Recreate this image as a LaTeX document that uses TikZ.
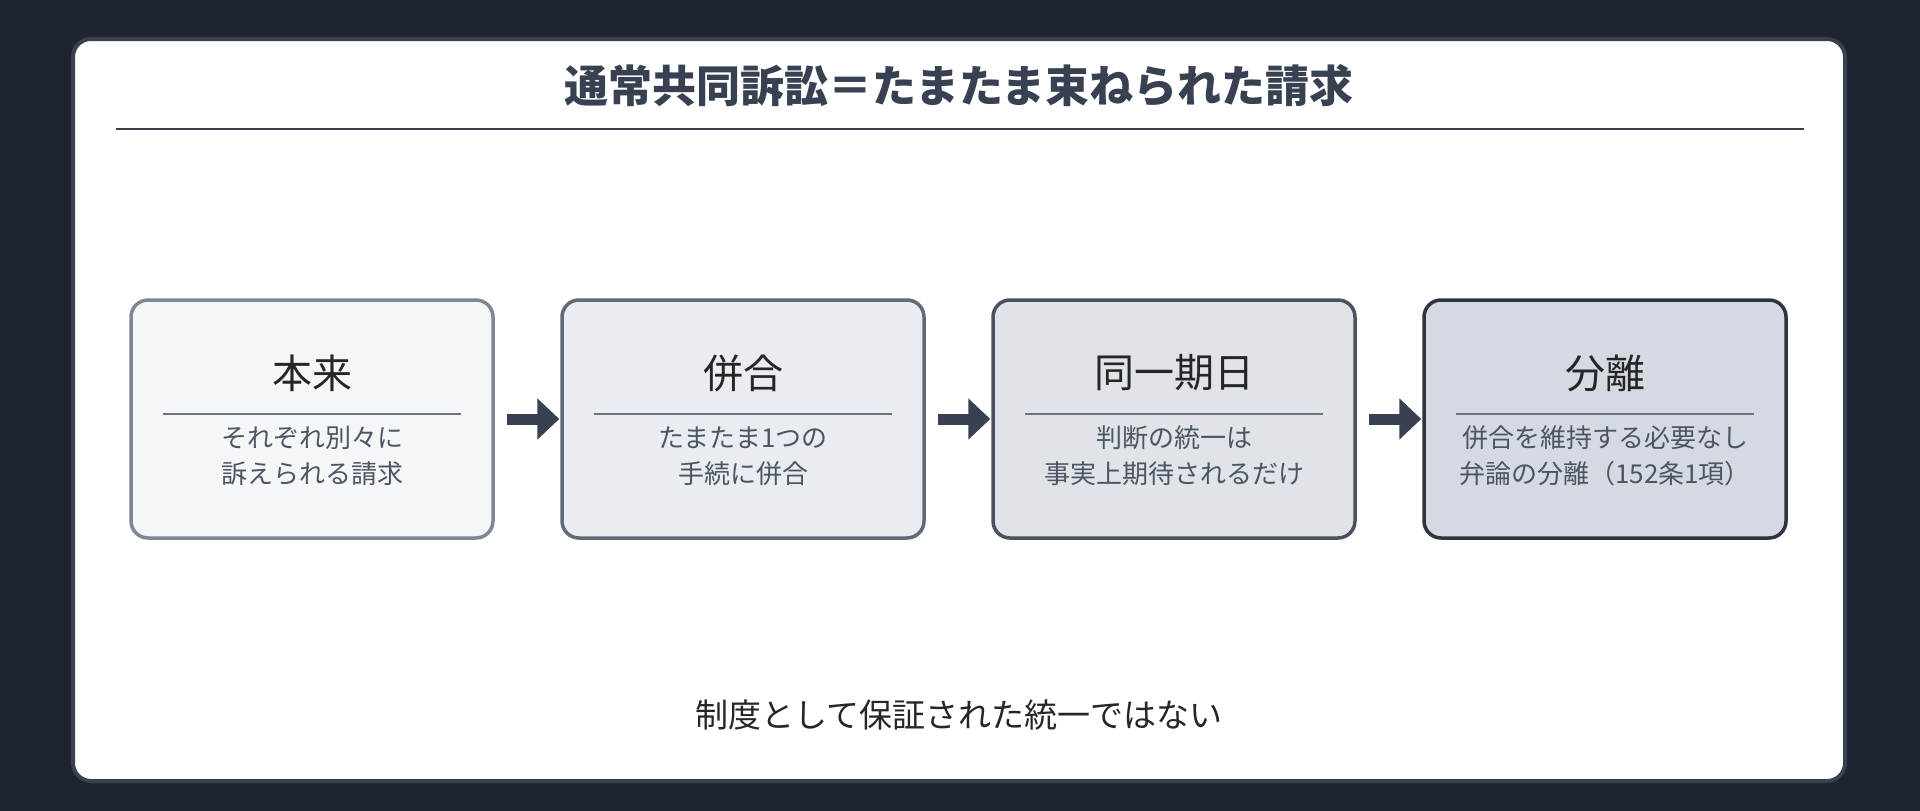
\documentclass[tikz,border=0pt]{standalone}
\usepackage{fontspec}
\setmainfont{Noto Sans CJK JP}
\usetikzlibrary{positioning, arrows.meta}
\definecolor{bgdark}{HTML}{1E2530}
\definecolor{slate}{HTML}{374151}
\definecolor{subgray}{HTML}{4B5563}
\definecolor{ruleg}{HTML}{6B7280}
\definecolor{fillA}{HTML}{F5F6F8}
\definecolor{fillB}{HTML}{E9ECF0}
\definecolor{fillC}{HTML}{E0E3E8}
\definecolor{fillD}{HTML}{D5D9E1}
\definecolor{drawA}{HTML}{7F8796}
\definecolor{drawB}{HTML}{616A78}
\definecolor{drawC}{HTML}{4A5260}
\definecolor{drawD}{HTML}{2D3542}

\begin{document}
\begin{tikzpicture}[
    x=1pt, y=-1pt,
    stage/.style={rectangle, rounded corners=17pt, minimum width=362pt, minimum height=238pt, line width=3.5pt},
    head/.style={font=\fontsize{40}{44}\selectfont, text=black!85},
    sub/.style={font=\fontsize{26}{36}\selectfont, text=subgray, align=center},
    flow/.style={-{Triangle[length=22pt, width=40pt]}, line width=11pt, draw=slate}
]
\useasboundingbox (0,0) rectangle (1920,811);
\fill[bgdark] (0,0) rectangle (1920,811);

% Panel
\draw[line width=4pt, draw=slate, fill=white, rounded corners=18pt] (73,39) rectangle (1845,781);

% Title
\node[font=\fontsize{44}{50}\selectfont\bfseries, text=slate] (title) at (959,86) {通常共同訴訟＝たまたま束ねられた請求};
\draw[line width=2pt, slate] (116,129) -- (1804,129);

% Stages
\foreach \i/\x/\f/\d/\h/\s in {
    1/312/fillA/drawA/本来/{それぞれ別々に\\訴えられる請求},
    2/743/fillB/drawB/併合/{たまたま1つの\\手続に併合},
    3/1174/fillC/drawC/同一期日/{判断の統一は\\事実上期待されるだけ},
    4/1605/fillD/drawD/分離/{併合を維持する必要なし\\弁論の分離（152条1項）}} {
    \node[stage, fill=\f, draw=\d] (box\i) at (\x,419) {};
    \node[head] (head\i) at (\x,373) {\h};
    \draw[line width=2.5pt, ruleg] (\x-149,414) -- (\x+149,414);
    \node[sub] (sub\i) at (\x,456) {\s};
}

% Arrows
\foreach \a/\b in {1/2, 2/3, 3/4} {
    \draw[flow] ([xshift=12pt]box\a.east) -- ([xshift=-1pt]box\b.west);
}

% Footer
\node[font=\fontsize{33}{40}\selectfont, text=black!85] (note) at (959,715) {制度として保証された統一ではない};

\end{tikzpicture}
\end{document}
